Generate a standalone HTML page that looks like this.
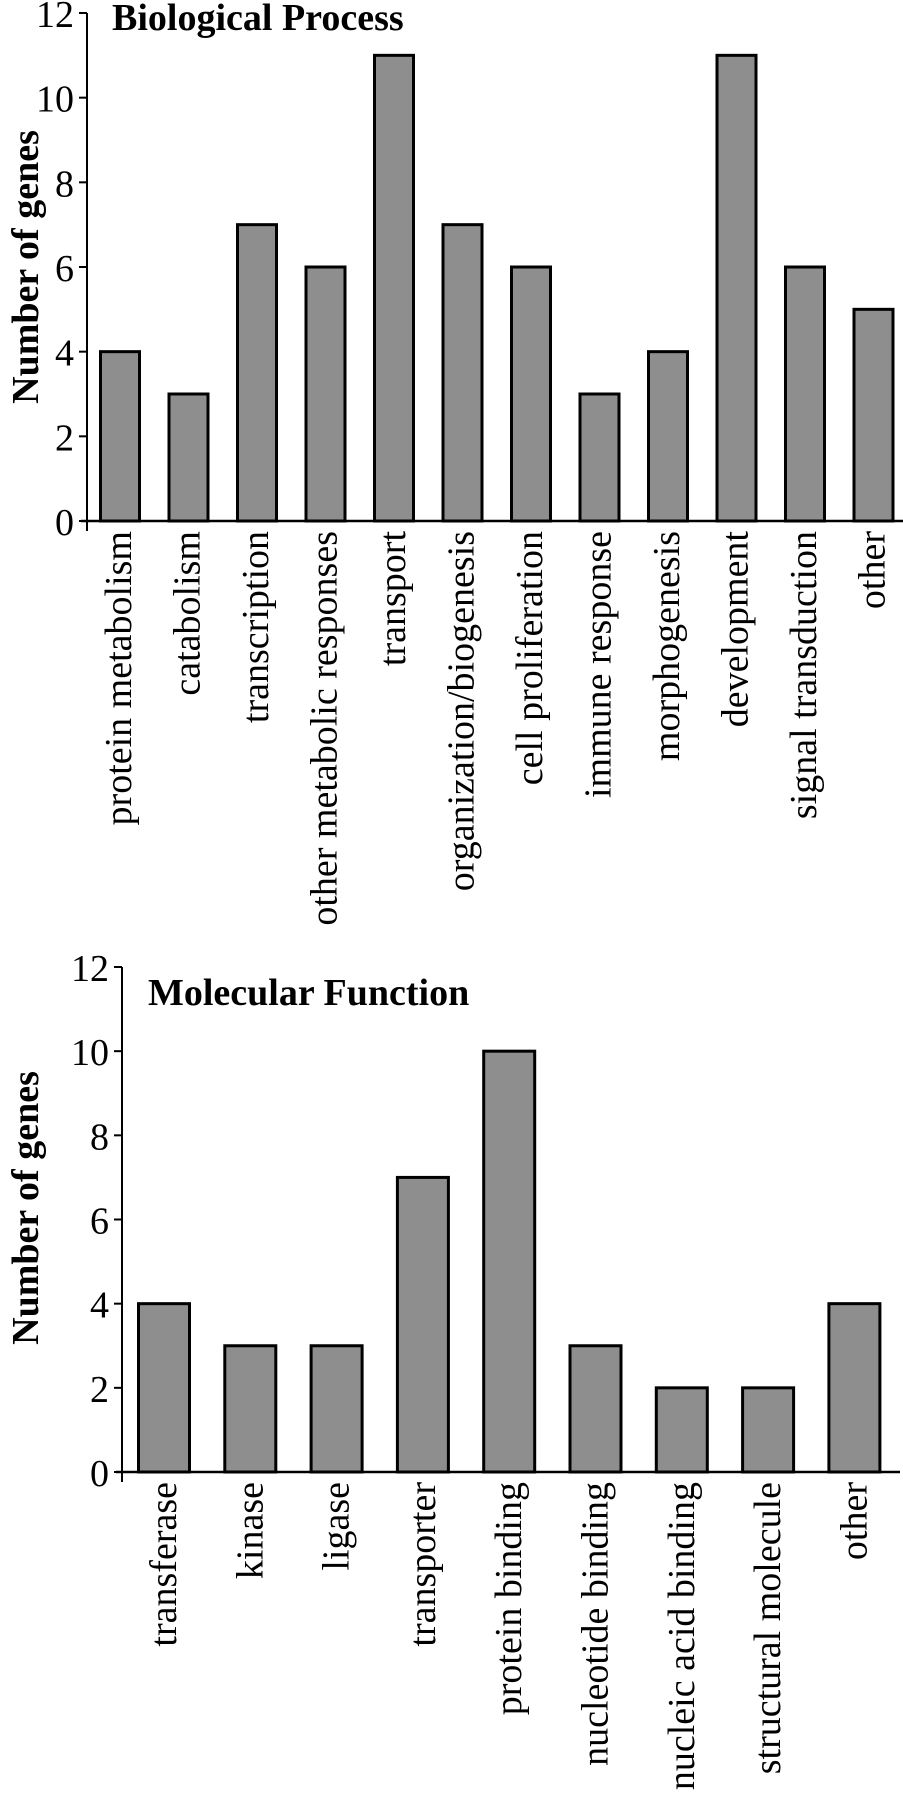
<!DOCTYPE html>
<html><head><meta charset="utf-8"><style>
html,body{margin:0;padding:0;background:#fff;width:903px;height:1800px;overflow:hidden}
svg text{font-family:"Liberation Serif",serif;fill:#000}
</style></head><body>
<svg id="svg" width="903" height="1800" xmlns="http://www.w3.org/2000/svg"></svg>
<script>
const bpCategories=["protein metabolism","catabolism","transcription","other metabolic responses","transport","organization/biogenesis","cell proliferation","immune response","morphogenesis","development","signal transduction","other"];
const bpValues=[4,3,7,6,11,7,6,3,4,11,6,5];
const mfCategories=["transferase","kinase","ligase","transporter","protein binding","nucleotide binding","nucleic acid binding","structural molecule","other"];
const mfValues=[4,3,3,7,10,3,2,2,4];
const yTicks=[0,2,4,6,8,10,12];

const NS="http://www.w3.org/2000/svg";
const svg=document.getElementById('svg');
function mk(tag,attrs,parent){const e=document.createElementNS(NS,tag);for(const k in attrs)e.setAttribute(k,attrs[k]);(parent||svg).appendChild(e);return e;}

function chart(cfg,cats,vals){
  const g=mk('g',{});
  
  
  const yS=v=>cfg.y0-(cfg.y0-cfg.y12)*v/12;
  const xS=i=>cfg.c0+cfg.step*i;
  const ax=mk('line',{x1:cfg.ax,y1:cfg.y12,x2:cfg.ax,y2:cfg.y0+10,stroke:'#000','stroke-width':2},g);
  
  
  yTicks.forEach(t=>{
    const tk=mk('line',{x1:cfg.ax-8,y1:yS(t),x2:cfg.ax,y2:yS(t),stroke:'#000','stroke-width':2},g);
    
    
    const tl=mk('text',{x:cfg.ax-13,y:yS(t)+14,'text-anchor':'end','font-size':38},g);
    tl.textContent=t;
    
    
  });
  vals.forEach((v,i)=>{
    const b=mk('rect',{x:xS(i)-cfg.bw/2,y:yS(v),width:cfg.bw,height:yS(0)-yS(v),fill:'#8e8e8e',stroke:'#000','stroke-width':3},g);
    
    
    const l=mk('text',{x:0,y:0,'text-anchor':'end','font-size':38,transform:`translate(${xS(i)+cfg.lo},${cfg.y0+10}) rotate(-90)`},g);
    l.textContent=cats[i];
    
    
  });
  const base=mk('line',{x1:cfg.ax-6,y1:cfg.y0,x2:cfg.xEnd,y2:cfg.y0,stroke:'#000','stroke-width':2.5},g);
  
  
  const ti=mk('text',{x:cfg.tx,y:cfg.ty,'font-size':38,'font-weight':'bold'},g);
  ti.textContent=cfg.title;
  
  
  const yt=mk('text',{x:0,y:0,'text-anchor':'middle','font-size':38,'font-weight':'bold',transform:`translate(38,${cfg.ytc}) rotate(-90)`},g);
  yt.textContent='Number of genes';
  
  
}
chart({name:'biological-process-chart',ax:87,y0:521,y12:13,c0:120,step:68.5,bw:39,lo:11,xEnd:903,tx:112,ty:30,title:'Biological Process',ytc:267},bpCategories,bpValues);
chart({name:'molecular-function-chart',ax:122,y0:1472,y12:967,c0:164,step:86.3,bw:51,lo:12,xEnd:900,tx:148,ty:1005,title:'Molecular Function',ytc:1208},mfCategories,mfValues);
</script>
</body></html>
